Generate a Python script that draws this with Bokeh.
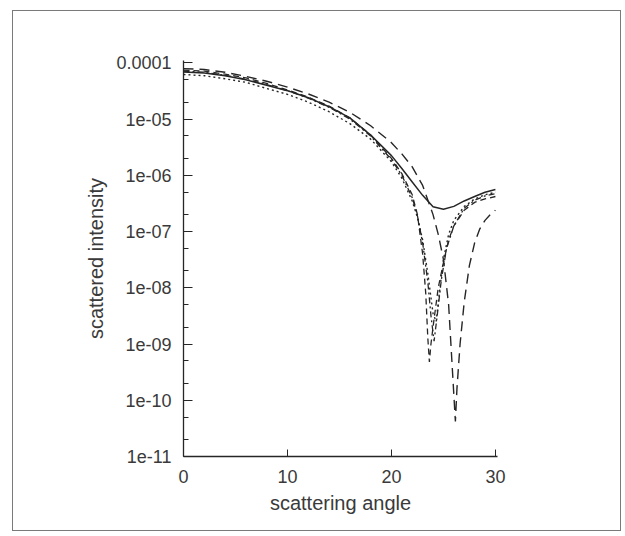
from bokeh.plotting import figure
from bokeh.models import Range1d, FixedTicker
from bokeh.embed import file_html
from bokeh.resources import INLINE

# scattering angle (deg) and scattered intensity
solid_x = [0, 2, 4, 6, 8, 10, 12, 14, 16, 18, 20, 21, 22, 23, 24, 25, 26, 27, 28, 29, 30]
solid_y = [6.9e-5, 6.6e-5, 5.9e-5, 5.0e-5, 4.0e-5, 3.2e-5, 2.4e-5, 1.66e-5, 1.05e-5, 5.2e-6,
           2.24e-6, 1.32e-6, 7.6e-7, 4.4e-7, 2.75e-7, 2.5e-7, 2.8e-7, 3.5e-7, 4.2e-7, 5.0e-7, 5.6e-7]

longdash_x = [0, 2, 4, 6, 8, 10, 12, 14, 16, 18, 20, 21, 22, 23, 24, 24.5, 25, 25.5, 26, 26.15,
              26.3, 26.6, 27, 27.5, 28, 28.5, 29, 29.5, 30]
longdash_y = [7.9e-5, 7.6e-5, 6.8e-5, 5.75e-5, 4.7e-5, 3.7e-5, 2.8e-5, 2.0e-5, 1.32e-5, 7.6e-6,
              3.8e-6, 2.4e-6, 1.41e-6, 6.6e-7, 2.0e-7, 8.9e-8, 3.2e-8, 5.0e-9, 1.26e-10, 4.2e-11,
              1.6e-10, 1.0e-9, 5.6e-9, 2.5e-8, 6.3e-8, 1.12e-7, 1.58e-7, 2.0e-7, 2.4e-7]

dashed_x = [0, 2, 4, 6, 8, 10, 12, 14, 16, 18, 20, 21, 22, 22.5, 23, 23.3, 23.5, 23.65, 23.8, 24,
            24.5, 25, 25.5, 26, 27, 28, 29, 30]
dashed_y = [7.4e-5, 7.1e-5, 6.3e-5, 5.4e-5, 4.3e-5, 3.3e-5, 2.45e-5, 1.7e-5, 1.05e-5, 5.2e-6,
            2.0e-6, 1.07e-6, 4.5e-7, 2.0e-7, 4.0e-8, 7.9e-9, 1.26e-9, 4.8e-10, 1.0e-9, 2.0e-9,
            1.0e-8, 2.8e-8, 7.1e-8, 1.26e-7, 2.4e-7, 3.3e-7, 3.8e-7, 4.2e-7]

dashdot_x = [0, 2, 4, 6, 8, 10, 12, 14, 16, 18, 20, 21, 22, 22.5, 23, 23.5, 23.8, 24.1, 24.4, 24.8,
             25.3, 26, 27, 28, 29, 30]
dashdot_y = [7.1e-5, 6.8e-5, 6.0e-5, 5.1e-5, 4.1e-5, 3.2e-5, 2.35e-5, 1.62e-5, 1.0e-5, 5.0e-6,
             1.9e-6, 1.0e-6, 4.0e-7, 1.9e-7, 6.3e-8, 1.26e-8, 3.2e-9, 1.12e-9, 3.2e-9, 1.4e-8,
             5.0e-8, 1.26e-7, 2.6e-7, 3.6e-7, 4.3e-7, 4.7e-7]

dotted_x = [0, 2, 4, 6, 8, 10, 12, 14, 16, 18, 20, 21, 22, 22.5, 23, 23.5, 24, 24.3, 24.6, 25,
            25.5, 26, 27, 28, 29, 30]
dotted_y = [6.2e-5, 5.9e-5, 5.2e-5, 4.5e-5, 3.5e-5, 2.75e-5, 2.0e-5, 1.35e-5, 8.3e-6, 4.4e-6,
            1.74e-6, 8.9e-7, 3.5e-7, 1.78e-7, 7.1e-8, 1.78e-8, 3.5e-9, 2.5e-9, 7.9e-9, 3.2e-8,
            8.9e-8, 1.58e-7, 2.8e-7, 3.8e-7, 4.5e-7, 5.0e-7]

x_ticks = [0, 10, 20, 30]
y_ticks = [1e-11, 1e-10, 1e-9, 1e-8, 1e-7, 1e-6, 1e-5, 1e-4]
y_tick_labels = ["1e-11", "1e-10", "1e-09", "1e-08", "1e-07", "1e-06", "1e-05", "0.0001"]
y_minor = [m * 10.0 ** e for e in range(-11, -4) for m in (2, 5)]

p = figure(width=609, height=521, y_axis_type="log", output_backend="svg",
           toolbar_location=None,
           x_range=Range1d(0, 30.2), y_range=Range1d(1e-11, 1.1e-4),
           min_border_left=170, min_border_right=125, min_border_top=49, min_border_bottom=76)
p.styles = {"border": "1px solid #7a7a7a", "margin-left": "12px", "margin-top": "10px"}
p.outline_line_color = None
p.xgrid.visible = False
p.ygrid.visible = False
p.background_fill_color = "white"
p.border_fill_color = "white"

ink = "#262626"
p.line(solid_x, solid_y, line_color=ink, line_width=1.5)
p.line(longdash_x, longdash_y, line_color=ink, line_width=1.4, line_dash="10 6")
p.line(dashed_x, dashed_y, line_color=ink, line_width=1.3, line_dash="6 4")
p.line(dashdot_x, dashdot_y, line_color=ink, line_width=1.3, line_dash="6 3 2 3")
p.line(dotted_x, dotted_y, line_color=ink, line_width=1.4, line_dash="2 3")

font = "Liberation Sans"
for ax in (p.xaxis[0], p.yaxis[0]):
    ax.axis_line_color = ink
    ax.axis_line_width = 1.3
    ax.major_tick_line_color = ink
    ax.minor_tick_line_color = ink
    ax.major_tick_out = 0
    ax.minor_tick_out = 0
    ax.major_label_text_font = font
    ax.major_label_text_font_size = "18px"
    ax.major_label_text_color = "#3a3a3a"
    ax.axis_label_text_font = font
    ax.axis_label_text_font_size = "20px"
    ax.axis_label_text_font_style = "normal"
    ax.axis_label_text_color = "#3a3a3a"

p.xaxis.ticker = FixedTicker(ticks=x_ticks)
p.xaxis.major_tick_in = 7
p.xaxis.minor_tick_in = 0
p.xaxis.major_label_standoff = 13
p.xaxis.axis_label = "scattering angle"
p.xaxis.axis_label_standoff = 6

p.yaxis.ticker = FixedTicker(ticks=y_ticks, minor_ticks=y_minor)
p.yaxis.major_label_overrides = {t: s for t, s in zip(y_ticks, y_tick_labels)}
p.yaxis.major_tick_in = 9
p.yaxis.minor_tick_in = 5
p.yaxis.major_label_standoff = 12
p.yaxis.axis_label = "scattered intensity"
p.yaxis.axis_label_standoff = 6

open("out.html", "w").write(file_html(p, INLINE))
